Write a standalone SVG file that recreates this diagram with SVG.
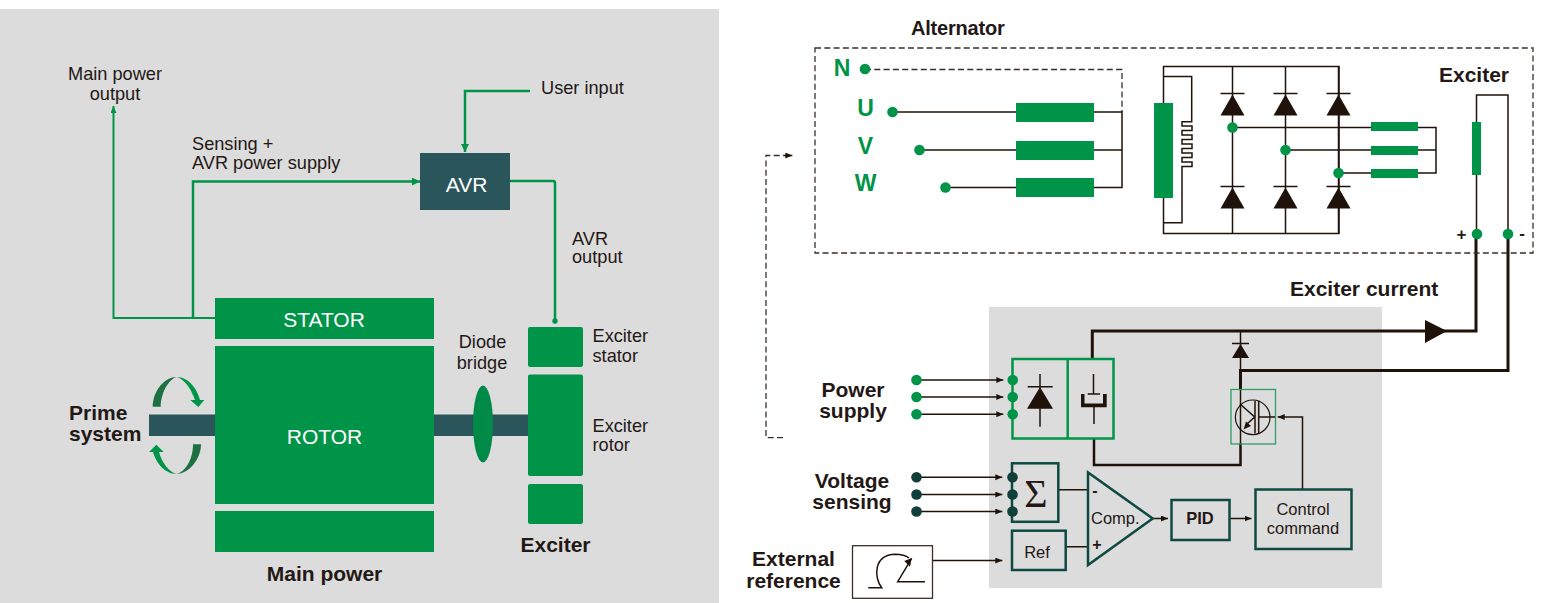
<svg xmlns="http://www.w3.org/2000/svg" width="1541" height="603" viewBox="0 0 1541 603">
<style>
text{font-family:"Liberation Sans",Arial,sans-serif;fill:#231815}
.n{font-size:18.2px}
.b{font-size:21px;font-weight:700}
.m{text-anchor:middle}
.w{fill:#fff;font-size:21px}
.g{fill:#009448}
.uvw{fill:#009448;font-size:23px;font-weight:700;text-anchor:middle}
.sm{font-size:16.5px}
.l,.lg,.th,.d{fill:none}
.lg{stroke:#009448;stroke-width:2.5}
.l{stroke:#1e120a;stroke-width:1.5}
.th{stroke:#1e120a;stroke-width:3}
.d{stroke:#3a2f28;stroke-width:1.3;stroke-dasharray:6 3.300}
.tb{fill:none;stroke:#0f4a40;stroke-width:2.5}
.gb{fill:none;stroke:#009448;stroke-width:2.5}
.k{fill:#1e120a}
.dt{fill:#0f3f38}
</style>
<defs>
<marker id="ak" markerUnits="userSpaceOnUse" markerWidth="8" markerHeight="7" refX="7" refY="3" orient="auto"><path d="M0 0L7 3L0 6Z" fill="#1e120a"/></marker>
<marker id="ag" markerUnits="userSpaceOnUse" markerWidth="9" markerHeight="9" refX="8" refY="4" orient="auto"><path d="M0 0L8 4L0 8Z" fill="#009448"/></marker>
<marker id="ag2" markerUnits="userSpaceOnUse" markerWidth="8" markerHeight="7" refX="7" refY="3" orient="auto"><path d="M0 0L7 3L0 6Z" fill="#009448"/></marker>
<g id="diode"><path d="M-12 0H12" class="l"/><path d="M0 1L12 22H-12Z" class="k"/></g>
</defs>

<rect id="left-panel" x="0" y="9" width="719" height="594" fill="#dcdcdc"/>
<rect id="right-panel" x="989" y="307" width="393" height="281" fill="#dcdcdc"/>

<g id="connectors">
<path class="lg" d="M193 318V181.500H420" marker-end="url(#ag)"/>
<path class="lg" style="stroke-width:2" d="M215 318H113.500V106" marker-end="url(#ag2)"/>
<path class="lg" d="M530 91H465V152" marker-end="url(#ag)"/>
<path class="lg" d="M510 181H553Q555 181 555 183V321"/>
<circle cx="555" cy="321" r="2.700" class="g"/>

<path class="d" d="M865 69.500H1122V112"/>
<path class="l" d="M892 112H1016M1094 112H1122V187.500H1094M1094 150H1122M919 150H1016M945 187.500H1016"/>
<path class="l" d="M1173 66.500H1339V233.500H1163.500V66.500H1173"/>
<path class="l" d="M1163.500 76.500H1191.700V121.700H1182V126H1192V130.500H1182V135H1192V139.500H1182V144H1192V148.500H1182V153H1192V157.500H1182V162H1192V166.500H1182V222.700H1163.500"/>
<path class="l" d="M1232.500 66.500V233.500M1285.500 66.500V233.500M1338.500 66.500V233.500"/>
<path class="l" d="M1232.500 127.500H1371M1418 127.500H1436V173H1418M1285.500 150H1371M1418 150H1436M1338.500 173H1371"/>
<path class="l" d="M1476.500 234V95H1508V234"/>
<path class="d" d="M783 437.700H766V155.500H784"/>
<path class="l" d="M784 155.500H792.300" marker-end="url(#ak)"/>

<path class="th" d="M1092.300 358V331H1476V234"/>
<path class="th" d="M1240.500 390V370.500H1508V234"/>
<path class="th" style="stroke-width:2.500" d="M1094 438V465H1240.500V443"/>
<path class="l" d="M1240.500 331V371"/>
<path class="l" d="M1240.500 390V443"/>
<path d="M1425 320L1447 331L1425 343Z" class="k"/>

<path class="l" d="M916 380H1003.300" marker-end="url(#ak)"/>
<path class="l" d="M916 397H1003.300" marker-end="url(#ak)"/>
<path class="l" d="M916 414.300H1003.300" marker-end="url(#ak)"/>
<path class="l" d="M916 477.300H1002.300" marker-end="url(#ak)"/>
<path class="l" d="M916 494.500H1002.300" marker-end="url(#ak)"/>
<path class="l" d="M916 511.500H1002.300" marker-end="url(#ak)"/>
<path class="l" d="M932 560.500H1002.300" marker-end="url(#ak)"/>
<path class="l" d="M1058.300 489.700H1088M1065.700 546.700H1088"/>
<path class="l" d="M1153 518.500H1168" marker-end="url(#ak)"/>
<path class="l" d="M1229.500 518.500H1251.500" marker-end="url(#ak)"/>
<path class="l" d="M1302.500 489.500V417H1277.700" marker-end="url(#ak)"/>
</g>

<g id="title-labels">
<text class="b" x="911" y="35" style="font-size:20px;letter-spacing:-.2px">Alternator</text>
<text class="b" x="1439" y="82">Exciter</text>
<text class="b" x="1290" y="296">Exciter current</text>
</g>

<g id="main-power-output"><text class="n m" x="115" y="80">Main power</text><text class="n m" x="115" y="100">output</text></g>
<g id="sensing-label"><text class="n" x="192" y="150">Sensing +</text><text class="n" x="192" y="169">AVR power supply</text></g>
<g id="user-input"><text class="n" x="541" y="94">User input</text></g>
<g id="avr"><rect x="420" y="153" width="90" height="57" fill="#2a555b"/><text class="w m" x="466.500" y="192">AVR</text></g>
<g id="avr-output"><text class="n" x="572" y="245">AVR</text><text class="n" x="572" y="263">output</text></g>

<g id="shaft"><rect x="149" y="414.500" width="66" height="21.500" fill="#2a555b"/><rect x="434" y="414.500" width="94" height="21.500" fill="#2a555b"/></g>
<g id="stator"><rect x="215" y="298" width="219" height="41" class="g"/><text class="w m" x="324" y="327">STATOR</text></g>
<g id="rotor"><rect x="215" y="346" width="219" height="158" class="g"/><text class="w m" x="324.500" y="444">ROTOR</text></g>
<g id="lower-stator"><rect x="215" y="511" width="219" height="41" class="g"/></g>
<g id="main-power-label"><text class="b m" x="324.500" y="581">Main power</text></g>
<g id="prime-system">
<text class="b" x="69" y="420">Prime</text><text class="b" x="69" y="441">system</text>
<path d="M152.700 406.700C153 390 165 377 176.700 377C169 379 161 392 160.700 406.700Z" fill="#1c7042"/>
<path d="M176.700 377C188 377 197 388 200 400H204.300L198.300 407L190.300 400H195C191 388 184 379 176.700 377Z" fill="#009448"/>
<path d="M201 444.300C201 460 188 474 176.700 474C185 472 193 460 193 444.300Z" fill="#1c7042"/>
<path d="M176.700 474C165 474 156 463 153 452H149L156.300 444.700L163.700 452H159C162 463 169 472 176.700 474Z" fill="#009448"/>
</g>
<g id="diode-bridge"><text class="n m" x="482.500" y="348">Diode</text><text class="n m" x="482" y="369">bridge</text><ellipse cx="483" cy="424" rx="10" ry="38.500" fill="#008a48"/></g>
<g id="exciter-stator"><rect x="528" y="327" width="55" height="40" rx="2" class="g"/><text class="n" x="592.500" y="342">Exciter</text><text class="n" x="592.500" y="362">stator</text></g>
<g id="exciter-rotor"><rect x="528" y="374.500" width="55" height="101.500" rx="2" class="g"/><text class="n" x="592.500" y="432">Exciter</text><text class="n" x="592.500" y="451">rotor</text></g>
<g id="exciter-lower"><rect x="528" y="484" width="55" height="40" rx="2" class="g"/><text class="b m" x="555.500" y="552">Exciter</text></g>

<g id="alternator-box"><rect x="815" y="48" width="718" height="205" fill="none" stroke="#3a2f28" stroke-width="1.300" stroke-dasharray="6 3.300"/></g>
<g id="phases">
<text class="uvw" x="842" y="76">N</text><circle cx="865" cy="69" r="5.300" class="g"/>
<text class="uvw" x="865.500" y="116">U</text><circle cx="892.500" cy="112" r="5.300" class="g"/>
<text class="uvw" x="865.500" y="154">V</text><circle cx="919.500" cy="150" r="5.300" class="g"/>
<text class="uvw" x="865.500" y="191">W</text><circle cx="945.500" cy="187.500" r="5.300" class="g"/>
</g>
<g id="alternator-windings">
<rect x="1016" y="103" width="78" height="19" class="g"/><rect x="1016" y="141" width="78" height="19" class="g"/><rect x="1016" y="178" width="78" height="19" class="g"/>
<rect x="1154" y="103" width="19" height="95" class="g"/>
</g>
<g id="rectifier">
<use href="#diode" x="1232.500" y="93.500"/><use href="#diode" x="1285.500" y="93.500"/><use href="#diode" x="1338.500" y="93.500"/>
<use href="#diode" x="1232.500" y="186.500"/><use href="#diode" x="1285.500" y="186.500"/><use href="#diode" x="1338.500" y="186.500"/>
<circle cx="1232.500" cy="127.500" r="5.300" class="g"/><circle cx="1285.500" cy="150" r="5.300" class="g"/><circle cx="1338.500" cy="173" r="5.300" class="g"/>
<rect x="1371" y="122" width="47" height="9" class="g"/><rect x="1371" y="146" width="47" height="9" class="g"/><rect x="1371" y="169" width="47" height="9" class="g"/>
</g>
<g id="exciter-winding">
<rect x="1472" y="122" width="9" height="53" class="g"/>
<circle cx="1477" cy="234" r="5.300" class="g"/><circle cx="1508" cy="234" r="5.300" class="g"/>
<text x="1461.500" y="240" font-size="17" font-weight="700" text-anchor="middle">+</text>
<text x="1522" y="239" font-size="17" font-weight="700" text-anchor="middle">-</text>
</g>

<g id="power-supply">
<text class="b m" x="853" y="397">Power</text><text class="b m" x="853" y="418">supply</text>
<circle cx="916.500" cy="380" r="5.300" class="g"/><circle cx="916.500" cy="397" r="5.300" class="g"/><circle cx="916.500" cy="414.300" r="5.300" class="g"/>
</g>
<g id="power-block">
<rect x="1012.500" y="359" width="101" height="79.500" class="gb"/><path d="M1067.700 359V438.500" class="gb"/>
<circle cx="1012.700" cy="380" r="5.300" class="g"/><circle cx="1012.700" cy="397" r="5.300" class="g"/><circle cx="1012.700" cy="414.300" r="5.300" class="g"/>
<path class="l" d="M1040 374V426.700M1027.700 386.700H1052.700"/><path d="M1040 387L1053 408.700H1027Z" class="k"/>
<path class="l" d="M1093.500 374V394M1087.700 394H1100M1094 407V424"/>
<path d="M1081 394H1084.500V403.500H1103V394H1106.700V407.300H1081Z" class="k"/>
</g>
<g id="thyristor-diode"><path class="l" d="M1232 343.500H1249"/><path d="M1240.500 344L1249 358H1232Z" class="k"/></g>
<g id="transistor">
<rect x="1231" y="389.500" width="44.500" height="54.500" fill="none" stroke="#2f9e63" stroke-width="1.300"/>
<circle cx="1252.700" cy="417.300" r="17.300" fill="none" stroke="#1e120a" stroke-width="1.200"/>
<path class="l" d="M1255 400.700V433.300M1258.700 400.700V433.300M1258.700 417H1275M1240 404L1254.700 417L1247 424"/>
<path d="M1243.500 429.500L1246 421.500L1251 426Z" class="k"/>
</g>
<g id="voltage-sensing">
<text class="b m" x="852" y="488">Voltage</text><text class="b m" x="852" y="509">sensing</text>
<circle cx="916.500" cy="477.300" r="5.300" class="dt"/><circle cx="916.500" cy="494.500" r="5.300" class="dt"/><circle cx="916.500" cy="511.500" r="5.300" class="dt"/>
</g>
<g id="sum">
<rect x="1012" y="463.300" width="46.300" height="58.500" class="tb"/>
<circle cx="1012.500" cy="477.300" r="5.300" class="dt"/><circle cx="1012.500" cy="494.500" r="5.300" class="dt"/><circle cx="1012.500" cy="511.500" r="5.300" class="dt"/>
<text x="1036" y="507" font-size="40" text-anchor="middle" style="font-family:'Liberation Serif',serif">Σ</text>
</g>
<g id="ref"><rect x="1012" y="530.700" width="53.700" height="39.300" class="tb"/><text class="sm m" x="1037" y="558">Ref</text></g>
<g id="comparator">
<path d="M1088 472.500V565L1152.700 518.500Z" class="tb"/>
<text class="sm" x="1091" y="524">Comp.</text>
<text x="1095" y="495.500" font-size="16" font-weight="700" text-anchor="middle">-</text>
<text x="1097" y="549.500" font-size="16" font-weight="700" text-anchor="middle">+</text>
</g>
<g id="pid"><rect x="1171.500" y="500" width="58" height="40" class="tb"/><text x="1200" y="524" font-size="16.500" font-weight="700" text-anchor="middle">PID</text></g>
<g id="control-command"><rect x="1255.500" y="489.500" width="96" height="59.500" class="tb"/><text class="sm m" x="1303" y="515">Control</text><text class="sm m" x="1303" y="534">command</text></g>
<g id="external-reference">
<text class="b m" x="793.500" y="566">External</text><text class="b m" x="793.500" y="588">reference</text>
<rect x="852.500" y="545.700" width="80" height="52.600" fill="#fff" stroke="#3a2f28" stroke-width="1.300"/>
<path class="l" d="M868.300 587.700H881.700C874 578 873 555 895 554.300C902 554.300 906 555.500 909 558M911.700 558.300L897.700 581.700H925"/>
<path d="M911.700 558L910 566.700L904.300 561Z" class="k"/>
</g>
</svg>
